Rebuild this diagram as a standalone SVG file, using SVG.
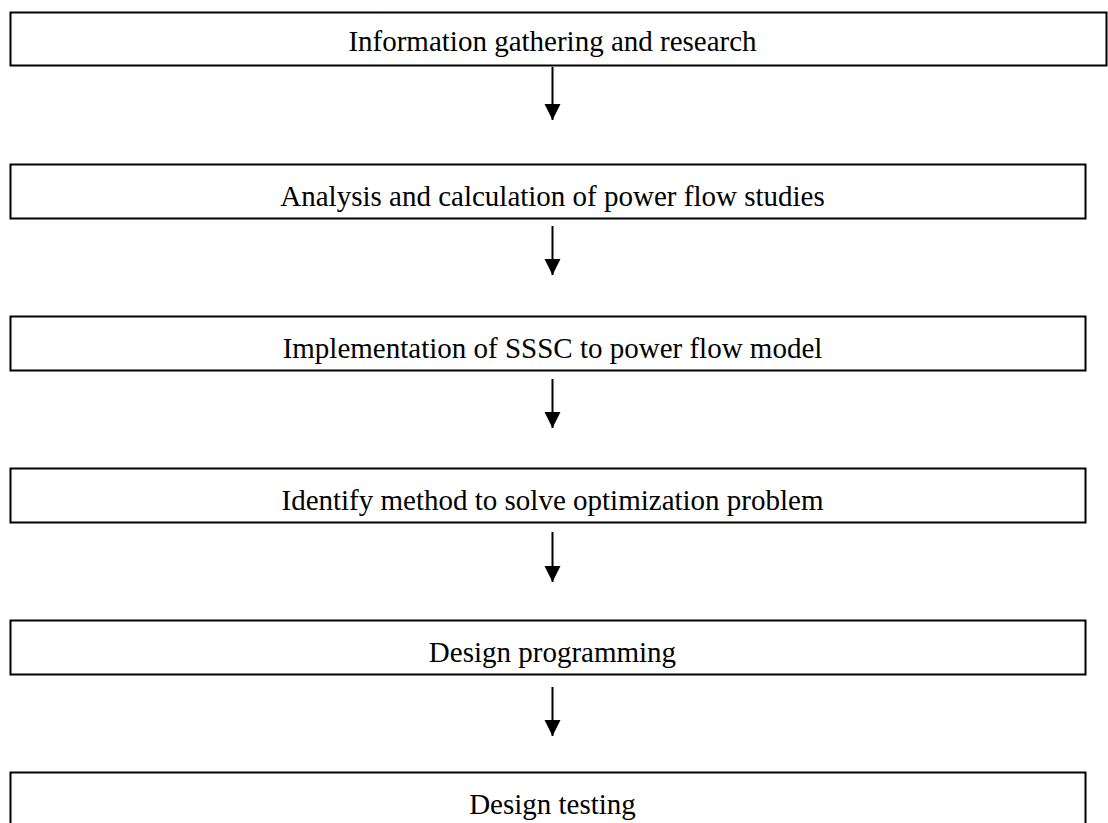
<svg xmlns="http://www.w3.org/2000/svg" width="1108" height="823" viewBox="0 0 1108 823">
  <style>
    .box { fill: #ffffff; stroke: #000000; stroke-width: 2; }
    .label { font-family: "Liberation Serif", "Times New Roman", serif; font-size: 29px; fill: #000000; text-anchor: middle; }
    .link { stroke: #000000; stroke-width: 2; fill: none; }
  </style>
  <defs>
    <marker id="arrowhead" markerUnits="userSpaceOnUse" markerWidth="17" markerHeight="17" refX="16" refY="8" orient="auto">
      <path d="M0,0 L16,8 L0,16 Z" fill="#000000"/>
    </marker>
  </defs>
  <rect width="1108" height="823" fill="#ffffff"/>

  <g id="step1">
    <rect class="box" x="10.5" y="12.5" width="1096" height="53"/>
    <text class="label" x="552.5" y="51">Information gathering and research</text>
  </g>
  <g id="step2">
    <rect class="box" x="10.5" y="164.5" width="1075" height="54"/>
    <text class="label" x="552.5" y="206">Analysis and calculation of power flow studies</text>
  </g>
  <g id="step3">
    <rect class="box" x="10.5" y="316.5" width="1075" height="54"/>
    <text class="label" x="552.5" y="358">Implementation of SSSC to power flow model</text>
  </g>
  <g id="step4">
    <rect class="box" x="10.5" y="468.5" width="1075" height="54"/>
    <text class="label" x="552.5" y="510">Identify method to solve optimization problem</text>
  </g>
  <g id="step5">
    <rect class="box" x="10.5" y="620.5" width="1075" height="54"/>
    <text class="label" x="552.5" y="662">Design programming</text>
  </g>
  <g id="step6">
    <rect class="box" x="10.5" y="772.5" width="1075" height="54"/>
    <text class="label" x="552.5" y="814">Design testing</text>
  </g>

  <g id="connectors">
    <line class="link" x1="552.5" y1="67" x2="552.5" y2="120" marker-end="url(#arrowhead)"/>
    <line class="link" x1="552.5" y1="226" x2="552.5" y2="275" marker-end="url(#arrowhead)"/>
    <line class="link" x1="552.5" y1="379" x2="552.5" y2="428" marker-end="url(#arrowhead)"/>
    <line class="link" x1="552.5" y1="532" x2="552.5" y2="582" marker-end="url(#arrowhead)"/>
    <line class="link" x1="552.5" y1="687" x2="552.5" y2="736" marker-end="url(#arrowhead)"/>
  </g>
</svg>
